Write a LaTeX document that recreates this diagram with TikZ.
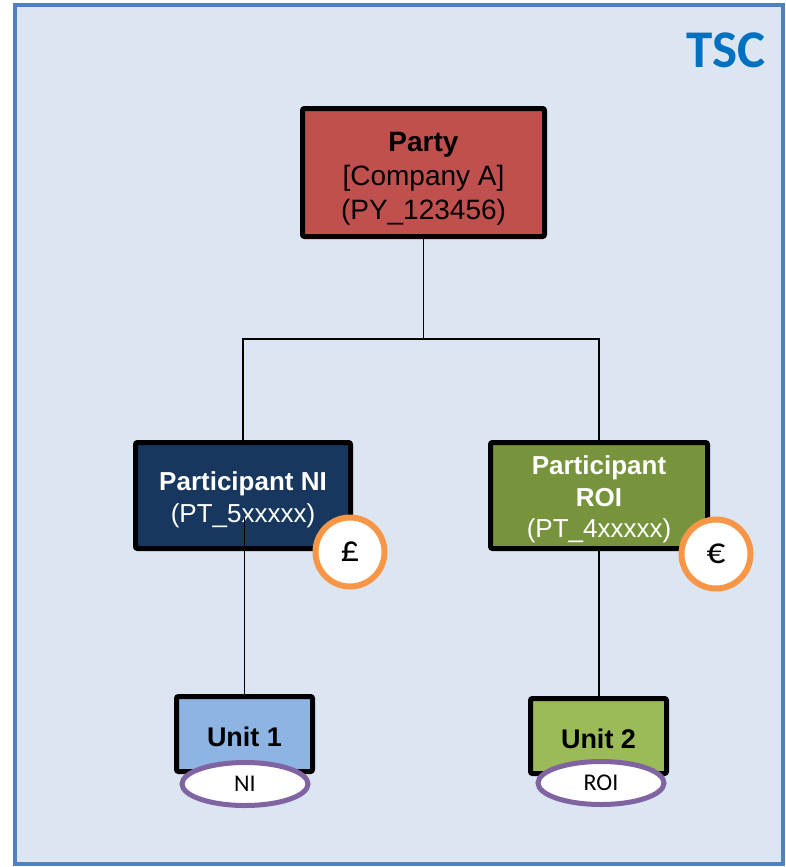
\documentclass[tikz,border=0pt]{standalone}
\usepackage{fontspec}
\setmainfont{Liberation Sans}
\newfontfamily\calib{Carlito}
\usetikzlibrary{shapes.geometric,calc}
\definecolor{frameblue}{HTML}{4F81BD}
\definecolor{framefill}{HTML}{DCE6F2}
\definecolor{tscblue}{HTML}{0070C0}
\definecolor{partyred}{HTML}{C0504D}
\definecolor{navyfill}{HTML}{17375E}
\definecolor{olivefill}{HTML}{77933C}
\definecolor{unitblue}{HTML}{8DB4E2}
\definecolor{unitgreen}{HTML}{9BBB59}
\definecolor{coinorange}{HTML}{F79646}
\definecolor{tagpurple}{HTML}{8064A2}
\begin{document}
\begin{tikzpicture}[x=1pt,y=-1pt,
  box/.style={draw=black, line width=5pt, rounded corners=2pt, inner sep=0pt, align=center},
  conn/.style={draw=black, line width=1.5pt},
  coin/.style={circle, draw=coinorange, line width=6pt, fill=white, minimum size=69pt, inner sep=0pt, font=\calib\fontsize{37}{37}\selectfont},
  tag/.style={ellipse, draw=tagpurple, line width=5pt, fill=white, minimum width=126pt, minimum height=43pt, inner sep=0pt, font=\calib\fontsize{24}{24}\selectfont}]
\useasboundingbox (0,0) rectangle (786,867);
\fill[white] (0,0) rectangle (786,867);
\draw[frameblue, fill=framefill, line width=3.5pt] (15,5) rectangle (783,864);
\node[anchor=east, text=tscblue, font=\calib\bfseries\fontsize{53}{53}\selectfont, inner sep=0pt] (tsc) at (766,50) {TSC};

\node[box, fill=partyred, minimum width=242pt, minimum height=128pt, font=\fontsize{28}{34}\selectfont] (party) at (423.5,172.5)
  {\rule{0pt}{32pt}\textbf{Party}\\{[Company A]}\\(PY\_123456)};
\node[box, fill=navyfill, text=white, minimum width=215pt, minimum height=106pt, font=\fontsize{26}{32}\selectfont] (pni) at (243,495.5)
  {\rule{0pt}{27pt}\textbf{Participant NI}\\(PT\_5xxxxx)};
\node[box, fill=olivefill, text=white, minimum width=217pt, minimum height=106pt, font=\fontsize{26}{31.5}\selectfont] (proi) at (599,495.5)
  {\rule{0pt}{27pt}\textbf{Participant}\\\textbf{ROI}\\(PT\_4xxxxx)};
\node[box, fill=unitblue, minimum width=136pt, minimum height=75pt, font=\bfseries\fontsize{27}{27}\selectfont] (unit1) at (244.5,734) {\rule{0pt}{25pt}Unit 1};
\node[box, fill=unitgreen, minimum width=136pt, minimum height=75pt, font=\bfseries\fontsize{27}{27}\selectfont] (unit2) at (598.5,736) {\rule{0pt}{25pt}Unit 2};

\coordinate (j) at (423.5,339);
\draw[conn] (party.south) -- (j);
\draw[conn] (pni.north) |- (j) -| (proi.north);
\draw[conn] (unit1.north) -- ([yshift=-22.5pt]unit1.north |- pni.center);
\draw[conn] (proi.south) -- (proi.south |- unit2.north);

\node[coin] (gbp) at (350,552) {£};
\node[coin] (eur) at (716,554) {€};
\node[tag] (tagni) at (245,784) {NI};
\node[tag] (tagroi) at (601,783) {ROI};
\end{tikzpicture}
\end{document}
